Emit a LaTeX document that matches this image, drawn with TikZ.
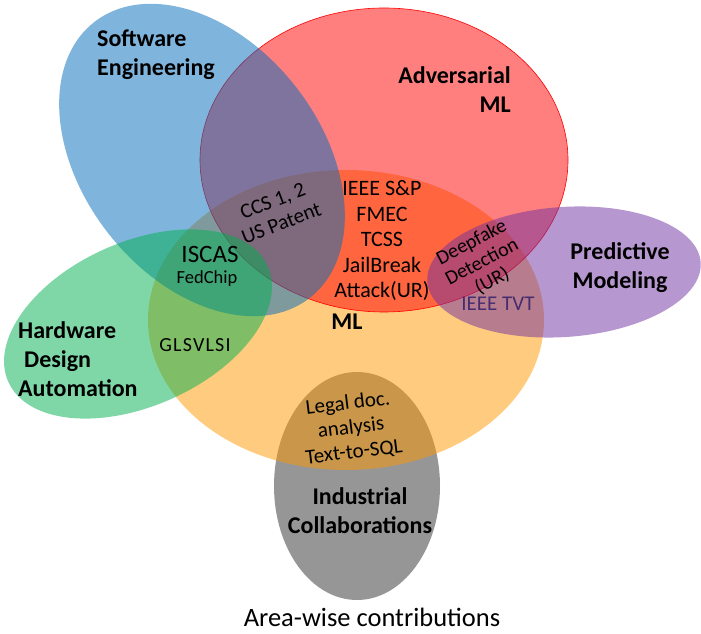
\documentclass[tikz,border=0pt]{standalone}
\usepackage{fontspec}
\setmainfont{Carlito}
\usepackage{xcolor}
\definecolor{setgray}{RGB}{150,150,150}
\definecolor{setorange}{RGB}{255,153,0}
\definecolor{setred}{RGB}{255,0,0}
\definecolor{setblue}{RGB}{4,108,186}
\definecolor{setgreen}{RGB}{0,176,80}
\definecolor{setpurple}{RGB}{112,48,160}
\definecolor{tvtpurple}{RGB}{70,45,110}

\begin{document}
\begin{tikzpicture}[x=1pt,y=1pt,
  areaname/.style={font=\fontsize{24}{29}\selectfont\bfseries,inner sep=0pt},
  venue/.style={font=\fontsize{22}{25.5}\selectfont,align=center,inner sep=0pt}]
\useasboundingbox (0,0) rectangle (701,634);
% the six research areas
\fill[setgray] (357,148) ellipse [x radius=83pt, y radius=114pt];
\fill[setorange,fill opacity=0.5] (346,314) ellipse [x radius=198pt, y radius=150pt];
\draw[setred,fill=setred,fill opacity=0.5,line width=0.6pt] (384,474) ellipse [x radius=184pt, y radius=152pt];
\fill[setblue,fill opacity=0.51,rotate around={-52:(202,474)}] (202,474) ellipse [x radius=175pt, y radius=119pt];
\fill[setgreen,fill opacity=0.5,rotate around={24:(138,310)}] (138,310) ellipse [x radius=142pt, y radius=82pt];
\fill[setpurple,fill opacity=0.5,rotate around={4:(564,362)}] (564,362) ellipse [x radius=137pt, y radius=65pt];
% area names
\node[areaname,align=left,anchor=west] (swe) at (97,579) {Software\\Engineering};
\node[areaname,align=right,anchor=east] (advml) at (511,544) {Adversarial\\ML};
\node[areaname,align=left,anchor=west] (hda) at (18,275) {Hardware\\\hspace*{6pt}Design\\Automation};
\node[areaname] (ml) at (347,312) {ML};
\node[areaname,align=center] (pm) at (620,366) {Predictive\\Modeling};
\node[areaname,align=center] (ic) at (360,123) {Industrial\\Collaborations};
% venues in the overlaps
\node[venue,font=\fontsize{21}{24}\selectfont,rotate=21] (ccs) at (277,422) {CCS 1, 2\\US Patent};
\node[venue] (advvenues) at (382,393) {IEEE S\&P\\FMEC\\TCSS\\JailBreak\\Attack(UR)};
\node[venue,font=\fontsize{25}{28}\selectfont] (iscas) at (210,380) {ISCAS};
\node[venue,font=\fontsize{18.5}{20}\selectfont] (fedchip) at (207,355) {FedChip};
\node[venue,font=\fontsize{20}{24}\selectfont\addfontfeature{LetterSpace=6}] (glsvlsi) at (195,289) {GLSVLSI};
\node[venue,font=\fontsize{20}{22}\selectfont,rotate=28] (deepfake) at (482,372) {Deepfake\\Detection\\(UR)};
\node[venue,font=\fontsize{21}{24}\selectfont,text=tvtpurple] (tvt) at (498,330) {IEEE TVT};
\node[venue,font=\fontsize{21}{24.5}\selectfont,rotate=7] (legal) at (351,206) {Legal doc.\\analysis\\Text-to-SQL};
\node[font=\fontsize{26.5}{30}\selectfont,inner sep=0pt,text depth=0pt,anchor=base] (caption) at (372,7) {Area-wise contributions};
\end{tikzpicture}
\end{document}
